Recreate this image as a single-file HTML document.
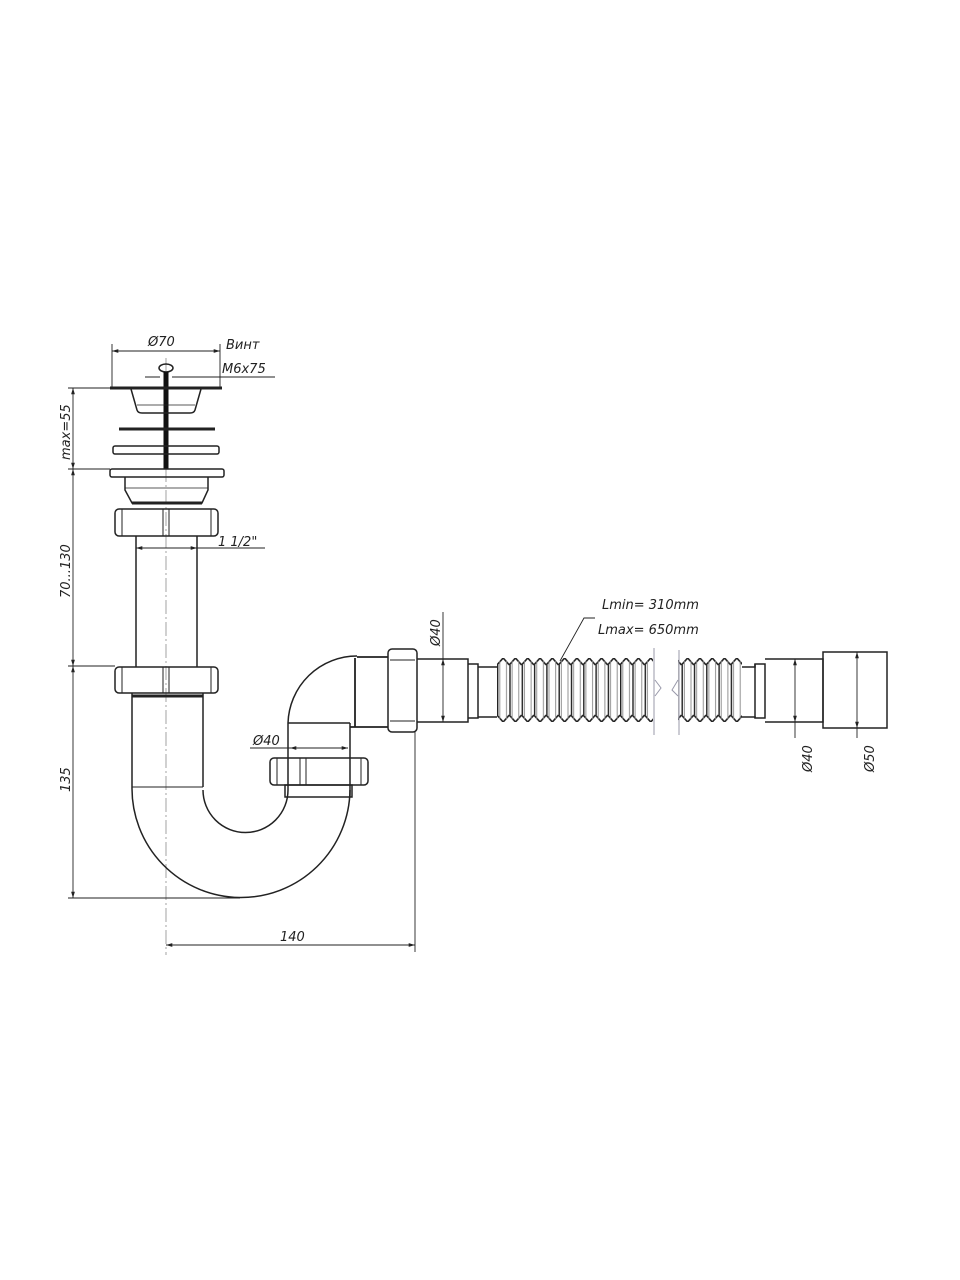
<!DOCTYPE html>
<html><head><meta charset="utf-8"><style>
html,body{margin:0;padding:0;background:#fff;}
svg{display:block}
text{font-family:"DejaVu Sans","Liberation Sans",sans-serif;font-style:oblique;fill:#222;font-size:13px}
</style></head><body>
<svg width="960" height="1280" viewBox="0 0 960 1280" xmlns="http://www.w3.org/2000/svg">
<defs>
<marker id="a" viewBox="0 0 10 10" refX="10" refY="5" markerWidth="7" markerHeight="7" orient="auto-start-reverse"><path d="M0,2 L10,5 L0,8z" fill="#222"/></marker>
<pattern id="rib" patternUnits="userSpaceOnUse" x="497" y="658" width="12.3" height="64">
<rect width="12.3" height="64" fill="#fff"/>
<path d="M0,7 L6.15,0 L12.3,7 M0,57 L6.15,64 L12.3,57 M0.6,7 V57" stroke="#222" stroke-width="1.6" fill="none"/>
<path d="M2.8,3 V61 M9.5,3 V61" stroke="#888" stroke-width="0.9" fill="none"/>
</pattern>
</defs>
<g stroke="#222" fill="none" stroke-width="1.5">
<!-- centerline -->
<path d="M166,358 V955" stroke="#999" stroke-width="0.9" stroke-dasharray="14,3,2,3"/>
<!-- top dim Ø70 -->
<path d="M112,388 V344 M220,388 V344" stroke-width="0.9"/>
<path d="M112,351 H220" stroke-width="0.9" marker-start="url(#a)" marker-end="url(#a)"/>
<path d="M145,377 H160 M172,377 H275" stroke-width="0.9"/>
<!-- screw -->
<ellipse cx="166" cy="368" rx="7" ry="4" stroke-width="1.5"/>
<rect x="163.5" y="372" width="5" height="97" fill="#111" stroke="none"/>
<!-- flange top -->
<path d="M110,388 H222" stroke-width="3"/>
<path d="M131,389 L137,410 Q138,413 142,413 H190 Q194,413 195,410 L201,389" />
<path d="M137,405 H195" stroke-width="0.8"/>
<path d="M119,429 H215" stroke-width="3"/>
<rect x="113" y="446" width="106" height="8" rx="2"/>
<rect x="110" y="469" width="114" height="8" rx="2"/>
<path d="M125,477 V490 L132,503 H202 L208,490 V477"/>
<path d="M125,488 H208" stroke-width="0.8"/>
<path d="M132,503 H202" stroke-width="3"/>
<!-- upper nut -->
<rect x="115" y="509" width="103" height="27" rx="4"/>
<path d="M122,509 V536 M211,509 V536 M163,509 V536 M169,509 V536" stroke-width="1"/>
<!-- upper pipe -->
<path d="M136,536 V667 M197,536 V667"/>
<path d="M136,548 H197" stroke-width="0.9" marker-start="url(#a)" marker-end="url(#a)"/>
<path d="M197,548 H265" stroke-width="0.9"/>
<!-- lower nut -->
<rect x="115" y="667" width="103" height="26" rx="4"/>
<path d="M122,667 V693 M211,667 V693 M163,667 V693 M169,667 V693" stroke-width="1"/>
<path d="M132,693 V787 M203,693 V787"/>
<path d="M132,696 H203" stroke-width="3"/>
<path d="M132,787 H203" stroke-width="1"/>
<!-- U bend -->
<path d="M132,787 A109,109 0 0 0 350,790"/>
<path d="M203,790 A42.5,42.5 0 0 0 288,790"/>
<!-- right riser -->
<path d="M288,790 V723 M350,797 V723"/>
<path d="M285,785 H352 V797 H285 Z"/>
<rect x="270" y="758" width="98" height="27" rx="4"/>
<path d="M277,758 V785 M361,758 V785 M300,758 V785 M306,758 V785" stroke-width="1"/>
<path d="M290,748 H348" stroke-width="0.9" marker-start="url(#a)" marker-end="url(#a)"/>
<path d="M250,748 H290" stroke-width="0.9"/>
<!-- elbow -->
<path d="M288,723 A69,69 0 0 1 357,656"/>
<path d="M288,723 H350"/>
<path d="M355,658 V727 M350,727 H388 M357,657 H388" stroke-width="1.8"/>
<rect x="388" y="649" width="29" height="83" rx="4"/>
<path d="M390,660 H415 M390,721 H415" stroke-width="1"/>
<!-- hose -->
<path d="M417,659 H468 V722 H417"/>
<path d="M468,664 H478 V718 H468 M478,667 H497 M478,717 H497"/>
<rect x="497" y="658" width="156" height="64" fill="url(#rib)" stroke="none"/>
<rect x="678" y="658" width="64" height="64" fill="url(#rib)" stroke="none"/>
<path d="M742,667 H755 V664 H765 V718 H755 V717 H742"/>
<path d="M755,664 V718"/>
<path d="M765,659 H823 V722 H765"/>
<rect x="823" y="652" width="64" height="76"/>
<!-- break lines -->
<path d="M654,648 V735 M679,650 V735" stroke="#99a" stroke-width="1"/>
<path d="M655,680 L661,688 L655,696 M678,680 L672,690 L678,696" stroke="#99a" stroke-width="1"/>
<!-- hose dims -->
<path d="M443,612 V659" stroke-width="0.9"/>
<path d="M443,659 V722" stroke-width="0.9" marker-start="url(#a)" marker-end="url(#a)"/>
<path d="M795,659 V722" stroke-width="0.9" marker-start="url(#a)" marker-end="url(#a)"/>
<path d="M795,722 V738" stroke-width="0.9"/>
<path d="M857,652 V728" stroke-width="0.9" marker-start="url(#a)" marker-end="url(#a)"/>
<path d="M857,728 V738" stroke-width="0.9"/>
<path d="M560,661 L584,618 H595" stroke-width="0.9"/>
<!-- left dims -->
<path d="M68,388 H112 M68,469 H110 M68,666 H115 M68,898 H240" stroke-width="0.9"/>
<path d="M73,388 V469" stroke-width="0.9" marker-start="url(#a)" marker-end="url(#a)"/>
<path d="M73,469 V666" stroke-width="0.9" marker-start="url(#a)" marker-end="url(#a)"/>
<path d="M73,666 V898" stroke-width="0.9" marker-start="url(#a)" marker-end="url(#a)"/>
<!-- 140 -->
<path d="M415,732 V952" stroke-width="0.9"/>
<path d="M166,945 H415" stroke-width="0.9" marker-start="url(#a)" marker-end="url(#a)"/>
</g>
<text x="148" y="346">Ø70</text>
<text x="226" y="349">Винт</text>
<text x="222" y="373">M6x75</text>
<text x="218" y="546">1 1/2"</text>
<text x="253" y="745">Ø40</text>
<text x="280" y="941">140</text>
<text x="602" y="609">Lmin= 310mm</text>
<text x="598" y="634">Lmax= 650mm</text>
<text transform="translate(440,646) rotate(-90)">Ø40</text>
<text transform="translate(812,772) rotate(-90)">Ø40</text>
<text transform="translate(874,772) rotate(-90)">Ø50</text>
<text transform="translate(70,460) rotate(-90)">max=55</text>
<text transform="translate(70,598) rotate(-90)">70...130</text>
<text transform="translate(70,792) rotate(-90)">135</text>
</svg>
</body></html>
